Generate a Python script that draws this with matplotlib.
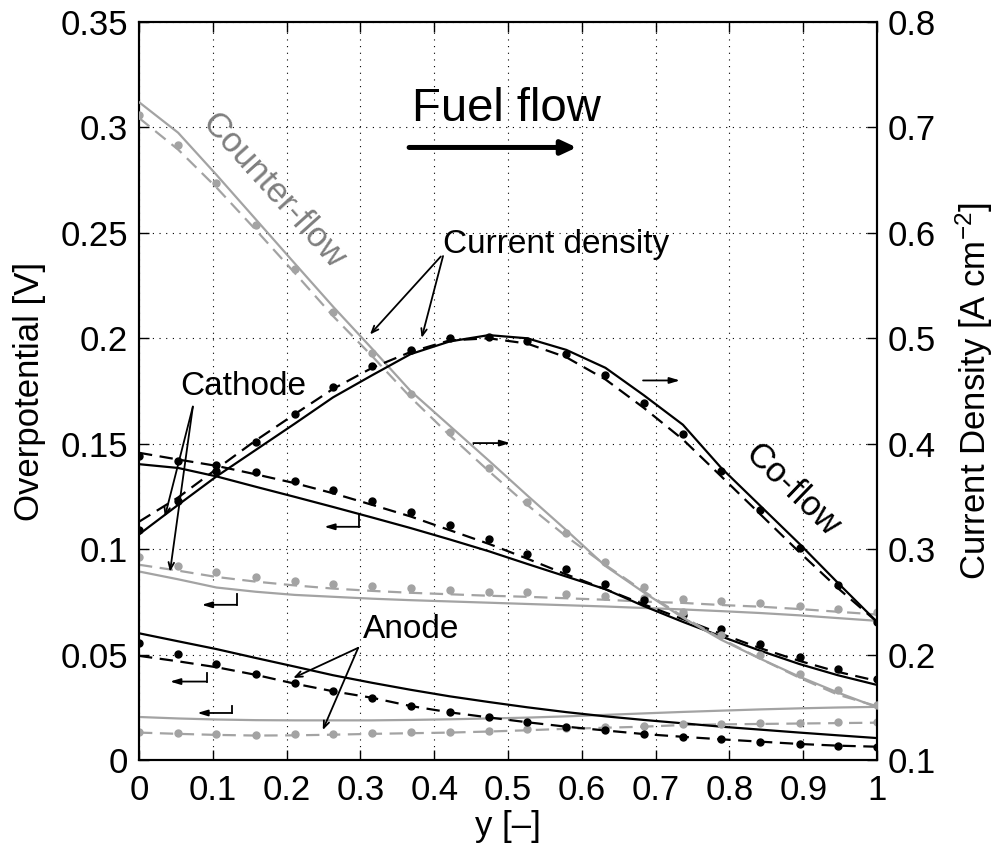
import numpy as np
import matplotlib.pyplot as plt

plt.rcParams['font.family'] = ['Liberation Sans', 'DejaVu Sans']
plt.rcParams['mathtext.fontset'] = 'custom'
plt.rcParams['mathtext.rm'] = 'Liberation Sans'
plt.rcParams['mathtext.it'] = 'Liberation Sans:italic'

# sample positions along the channel (all series share them)
x_pts = [0.000, 0.053, 0.105, 0.158, 0.211, 0.263, 0.316, 0.368, 0.421, 0.474,
         0.526, 0.579, 0.632, 0.684, 0.737, 0.789, 0.842, 0.895, 0.947, 1.000]

# current density [A cm-2], right axis
cd_co_solid = [0.314, 0.342, 0.369, 0.394, 0.419, 0.444, 0.465, 0.485, 0.497, 0.503,
               0.500, 0.489, 0.472, 0.446, 0.418, 0.377, 0.341, 0.305, 0.268, 0.231]
cd_co_dash = [0.326, 0.349, 0.376, 0.403, 0.428, 0.452, 0.472, 0.487, 0.498, 0.500,
              0.495, 0.482, 0.461, 0.434, 0.404, 0.369, 0.333, 0.297, 0.263, 0.231]
cd_co_dots = [0.318, 0.346, 0.374, 0.402, 0.428, 0.454, 0.474, 0.489, 0.500, 0.501,
              0.497, 0.485, 0.465, 0.439, 0.409, 0.374, 0.337, 0.301, 0.266, 0.231]
cd_cf_solid = [0.724, 0.695, 0.655, 0.613, 0.571, 0.530, 0.490, 0.450, 0.417, 0.384,
               0.351, 0.318, 0.284, 0.259, 0.235, 0.214, 0.196, 0.179, 0.164, 0.150]
cd_cf_dash = [0.709, 0.679, 0.643, 0.603, 0.562, 0.521, 0.483, 0.444, 0.408, 0.374,
              0.342, 0.312, 0.285, 0.260, 0.236, 0.215, 0.196, 0.178, 0.162, 0.151]
cd_cf_dots = [0.712, 0.683, 0.647, 0.607, 0.566, 0.525, 0.486, 0.447, 0.411, 0.377,
              0.345, 0.315, 0.288, 0.264, 0.240, 0.219, 0.200, 0.182, 0.166, 0.152]

# overpotentials [V], left axis
cat_co_solid = [0.1403, 0.1385, 0.1345, 0.1296, 0.1248, 0.1200, 0.1150, 0.1100, 0.1046, 0.0990,
                0.0930, 0.0870, 0.0810, 0.0730, 0.0655, 0.0586, 0.0518, 0.0455, 0.0402, 0.0356]
cat_co_dash = [0.1457, 0.1425, 0.1395, 0.1355, 0.1313, 0.1265, 0.1210, 0.1155, 0.1090, 0.1025,
               0.0955, 0.0880, 0.0810, 0.0738, 0.0668, 0.0598, 0.0530, 0.0470, 0.0418, 0.0375]
cat_co_dots = [0.1440, 0.1420, 0.1400, 0.1364, 0.1325, 0.1280, 0.1230, 0.1174, 0.1113, 0.1049,
               0.0978, 0.0905, 0.0834, 0.0760, 0.0690, 0.0620, 0.0549, 0.0487, 0.0432, 0.0383]
cat_cf_solid = [0.0894, 0.0857, 0.0818, 0.0798, 0.0783, 0.0774, 0.0765, 0.0758, 0.0752, 0.0746,
                0.0740, 0.0734, 0.0728, 0.0721, 0.0714, 0.0706, 0.0697, 0.0686, 0.0673, 0.0660]
cat_cf_dash = [0.0926, 0.0898, 0.0868, 0.0846, 0.0828, 0.0813, 0.0802, 0.0793, 0.0786, 0.0779,
               0.0774, 0.0767, 0.0760, 0.0751, 0.0745, 0.0735, 0.0727, 0.0716, 0.0703, 0.0690]
cat_cf_dots = [0.0965, 0.0922, 0.0890, 0.0867, 0.0847, 0.0834, 0.0823, 0.0815, 0.0807, 0.0799,
               0.0795, 0.0787, 0.0779, 0.0768, 0.0763, 0.0752, 0.0744, 0.0731, 0.0716, 0.0701]
an_co_solid = [0.0601, 0.0563, 0.0526, 0.0484, 0.0443, 0.0402, 0.0366, 0.0333, 0.0302, 0.0275,
               0.0250, 0.0227, 0.0207, 0.0190, 0.0174, 0.0158, 0.0144, 0.0130, 0.0117, 0.0104]
an_co_dash = [0.0494, 0.0468, 0.0440, 0.0404, 0.0362, 0.0326, 0.0295, 0.0256, 0.0226, 0.0202,
              0.0179, 0.0158, 0.0140, 0.0123, 0.0110, 0.0098, 0.0087, 0.0076, 0.0068, 0.0063]
an_co_dots = [0.0554, 0.0503, 0.0456, 0.0408, 0.0364, 0.0328, 0.0296, 0.0256, 0.0226, 0.0202,
              0.0179, 0.0158, 0.0140, 0.0123, 0.0110, 0.0098, 0.0087, 0.0076, 0.0068, 0.0063]
an_cf_solid = [0.0204, 0.0197, 0.0192, 0.0189, 0.0188, 0.0188, 0.0188, 0.0190, 0.0193, 0.0197,
               0.0201, 0.0207, 0.0214, 0.0221, 0.0228, 0.0234, 0.0240, 0.0245, 0.0249, 0.0252]
an_cf_dash = [0.0130, 0.0124, 0.0119, 0.0116, 0.0117, 0.0120, 0.0124, 0.0127, 0.0130, 0.0135,
              0.0141, 0.0148, 0.0153, 0.0158, 0.0166, 0.0169, 0.0171, 0.0173, 0.0175, 0.0177]
an_cf_dots = [0.0134, 0.0128, 0.0123, 0.0120, 0.0121, 0.0124, 0.0128, 0.0131, 0.0134, 0.0139,
              0.0145, 0.0153, 0.0158, 0.0162, 0.0171, 0.0173, 0.0175, 0.0177, 0.0178, 0.0179]

BLACK = 'black'
GRAY = '#a3a3a3'
DASH = (6, 3.4)

fig = plt.figure(figsize=(9.98, 8.52), dpi=100)
ax = fig.add_axes([139 / 998, 92 / 852, 738 / 998, 738 / 852])
ax2 = ax.twinx()


def draw(a, solid, dash, dots, color):
    a.plot(x_pts, solid, color=color, lw=1.6, zorder=3)
    a.plot(x_pts, dash, color=color, lw=1.6, dashes=DASH, zorder=3)
    a.plot(x_pts, dots, 'o', color=color, ms=5, zorder=4)


draw(ax, cat_cf_solid, cat_cf_dash, cat_cf_dots, GRAY)
draw(ax, an_cf_solid, an_cf_dash, an_cf_dots, GRAY)
draw(ax, cat_co_solid, cat_co_dash, cat_co_dots, BLACK)
draw(ax, an_co_solid, an_co_dash, an_co_dots, BLACK)
draw(ax2, cd_cf_solid, cd_cf_dash, cd_cf_dots, GRAY)
draw(ax2, cd_co_solid, cd_co_dash, cd_co_dots, BLACK)

ax.set_xlim(0, 1)
ax.set_ylim(0, 0.35)
ax2.set_ylim(0.1, 0.8)
ax.set_xticks(np.arange(0, 1.01, 0.1))
ax.set_xticklabels(['0', '0.1', '0.2', '0.3', '0.4', '0.5', '0.6', '0.7', '0.8', '0.9', '1'])
ax.set_yticks(np.arange(0, 0.351, 0.05))
ax.set_yticklabels(['0', '0.05', '0.1', '0.15', '0.2', '0.25', '0.3', '0.35'])
ax2.set_yticks(np.arange(0.1, 0.801, 0.1))
ax2.set_yticklabels(['0.1', '0.2', '0.3', '0.4', '0.5', '0.6', '0.7', '0.8'])

ax.grid(True, color='black', lw=0.8, linestyle=(0, (1, 5)))
ax.tick_params(direction='in', length=7, width=1, labelsize=25, top=True, pad=8)
ax2.tick_params(direction='in', length=7, width=1, labelsize=25, pad=8)
ax.tick_params(axis='x', pad=10)
for a in (ax, ax2):
    for s in a.spines.values():
        s.set_linewidth(1.5)

ax.set_xlabel('y [–]', fontsize=25, labelpad=2)
ax.set_ylabel('Overpotential [V]', fontsize=25, labelpad=10)
ax2.set_ylabel('Current Density [A cm$^{-2}$]', fontsize=25, labelpad=12)

# annotations
ax.text(0.3695, 0.3029, 'Fuel flow', fontsize=34, ha='left', va='baseline')
ax.annotate('', xy=(0.593, 0.2905), xytext=(0.366, 0.2905),
            arrowprops=dict(arrowstyle='-|>,head_length=0.9,head_width=0.42',
                            lw=3.6, color='black', shrinkA=0, shrinkB=0))

ax.text(0.1816, 0.2697, 'Counter-flow', fontsize=25, color='#7f7f7f',
        rotation=-48, ha='center', va='center')
ax.text(0.885, 0.1282, 'Co-flow', fontsize=25, rotation=-44, ha='center', va='center')


def pointer(tail, tip):
    ax.annotate('', xy=tip, xytext=tail,
                arrowprops=dict(arrowstyle='->,head_length=0.5,head_width=0.2',
                                lw=1.3, color='black', shrinkA=0, shrinkB=0))


ax.text(0.565, 0.2445, 'Current density', fontsize=24, ha='center', va='center')
pointer((0.409, 0.2388), (0.313, 0.2018))
pointer((0.412, 0.2390), (0.383, 0.2002))

ax.text(0.141, 0.1771, 'Cathode', fontsize=24, ha='center', va='center')
pointer((0.073, 0.1676), (0.035, 0.1154))
pointer((0.073, 0.1676), (0.042, 0.0893))

ax.text(0.369, 0.0617, 'Anode', fontsize=24, ha='center', va='center')
pointer((0.297, 0.0532), (0.209, 0.0389))
pointer((0.297, 0.0532), (0.249, 0.0142))


def right_arrow(x0, x1, y):
    ax.annotate('', xy=(x1, y), xytext=(x0, y),
                arrowprops=dict(arrowstyle='-|>,head_length=0.6,head_width=0.18',
                                lw=1.3, color='black', shrinkA=0, shrinkB=0))


right_arrow(0.453, 0.503, 0.1503)
right_arrow(0.683, 0.733, 0.1800)


def hook(xr, xl, ytop, ybot):
    ax.plot([xr, xr], [ytop, ybot], color='black', lw=1.3)
    ax.annotate('', xy=(xl, ybot), xytext=(xr, ybot),
                arrowprops=dict(arrowstyle='-|>,head_length=0.6,head_width=0.18',
                                lw=1.3, color='black', shrinkA=0, shrinkB=0))


hook(0.298, 0.251, 0.1163, 0.1106)
hook(0.1324, 0.085, 0.0787, 0.0736)
hook(0.0917, 0.042, 0.0412, 0.0372)
hook(0.126, 0.079, 0.0256, 0.0223)

fig.savefig('out.png', dpi=100)
